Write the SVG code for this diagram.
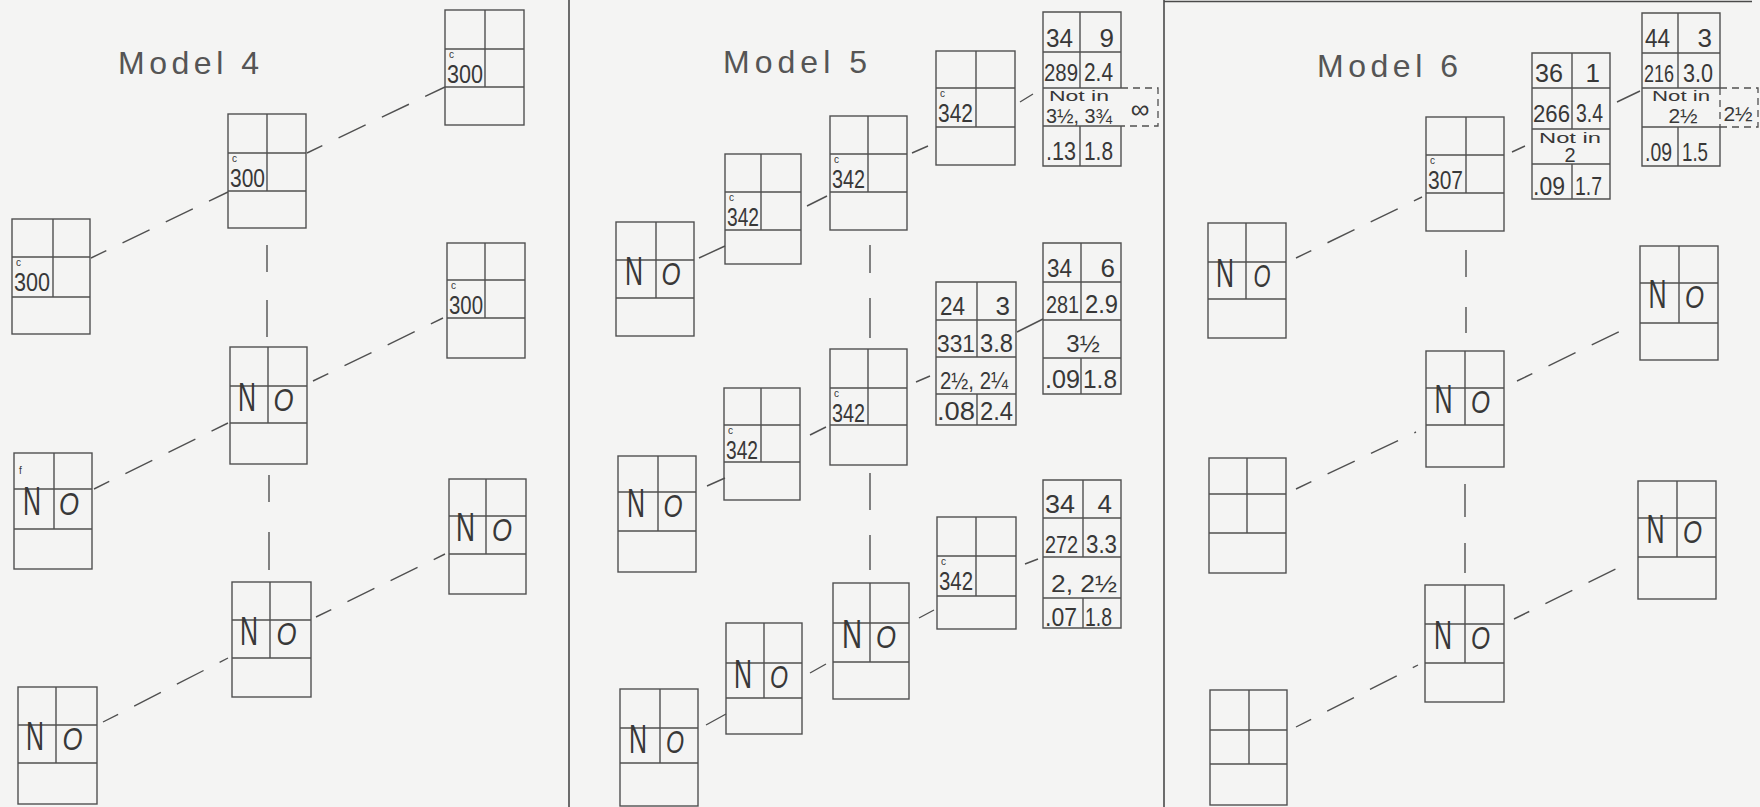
<svg xmlns="http://www.w3.org/2000/svg" width="1760" height="807" viewBox="0 0 1760 807">
<style>
.bg{fill:#f4f4f3}
.box{fill:none;stroke:#505050;stroke-width:1.4}
.div{fill:none;stroke:#4a4a4a;stroke-width:1.6}
.conn{fill:none;stroke:#505050;stroke-width:1.4}
.dash{stroke-dasharray:30 18;stroke-dashoffset:13}
.ext{fill:none;stroke:#505050;stroke-width:1.3;stroke-dasharray:7 5}
text{font-family:"Liberation Sans",Arial,sans-serif;fill:#383838}
.title{font-size:32px;fill:#555}
.n{font-size:40px;text-anchor:middle}
.o{font-size:32px;text-anchor:middle;font-style:italic}
.c{font-size:10px}
.cn{font-size:25px}
.d{font-size:26px}
.d3{font-size:23px}
.r{text-anchor:end}
.m{text-anchor:middle}
.s{font-size:15px}
</style>
<rect class="bg" x="0" y="0" width="1760" height="807"/>
<g id="frame">
<path class="div" d="M569 0V807M1164 0V807M1164 1.5H1752"/>
</g>
<g id="titles">
<text class="title" x="118" y="74" textLength="141" lengthAdjust="spacing">Model 4</text>
<text class="title" x="723" y="73" textLength="144" lengthAdjust="spacing">Model 5</text>
<text class="title" x="1317" y="77" textLength="141" lengthAdjust="spacing">Model 6</text>
</g>
<g id="connectors">
<path class="conn dash" d="M91 258L228 192M307 153L445 87M94 489L228 423M313 381L443 318M103 722L228 658M316 617L445 554"/>
<path class="conn dash" d="M1296 258L1422 197M1517 381L1633 325M1296 489L1416 432M1514 619L1630 562M1296 727L1418 665"/>
<path class="conn" d="M267 245V272M267 300V337M269 475V502M269 532V570M870 245V273M870 298V338M870 473V510M870 535V570M1466 250V277M1466 307V333M1465 484V517M1465 543V573"/>
<path class="conn" d="M699 258L725 246M807 206L827 196M912 153L928 146M1020 102L1033 94M707 486L725 478M810 435L826 427M916 382L930 376M1017 332L1043 319M706 725L726 714M810 673L826 664M919 618L934 610M1025 564L1038 559M1512 152L1525 146M1617 102L1640 91"/>
</g>

<!-- Model 4 -->
<g id="m4-n1"><rect class="box" x="445" y="10" width="79" height="115"/><path class="box" d="M445 49H524M445 87H524M485 10V87"/><text class="c" x="449" y="58">c</text><text class="cn" x="447" y="83" textLength="36" lengthAdjust="spacingAndGlyphs">300</text></g>
<g id="m4-n2"><rect class="box" x="228" y="114" width="78" height="114"/><path class="box" d="M228 153H306M228 191H306M267 114V191"/><text class="c" x="232" y="162">c</text><text class="cn" x="230" y="187" textLength="35" lengthAdjust="spacingAndGlyphs">300</text></g>
<g id="m4-n3"><rect class="box" x="12" y="219" width="78" height="115"/><path class="box" d="M12 257H90M12 297H90M53 219V297"/><text class="c" x="16" y="266">c</text><text class="cn" x="14" y="291" textLength="36" lengthAdjust="spacingAndGlyphs">300</text></g>
<g id="m4-n4"><rect class="box" x="447" y="243" width="78" height="115"/><path class="box" d="M447 280H525M447 318H525M485 243V318"/><text class="c" x="451" y="289">c</text><text class="cn" x="449" y="314" textLength="34" lengthAdjust="spacingAndGlyphs">300</text></g>
<g id="m4-n5"><rect class="box" x="230" y="347" width="77" height="117"/><path class="box" d="M230 386H307M230 423H307M268 347V423"/><text class="n" x="247" y="411" textLength="18" lengthAdjust="spacingAndGlyphs">N</text><text class="o" x="283.5" y="411" textLength="20" lengthAdjust="spacingAndGlyphs">O</text></g>
<g id="m4-n6"><rect class="box" x="14" y="453" width="78" height="116"/><path class="box" d="M14 489H92M14 529H92M54 453V529"/><text class="c" x="19" y="474" font-size="12">f</text><text class="n" x="32" y="515" textLength="18" lengthAdjust="spacingAndGlyphs">N</text><text class="o" x="69" y="515" textLength="20" lengthAdjust="spacingAndGlyphs">O</text></g>
<g id="m4-n7"><rect class="box" x="449" y="479" width="77" height="115"/><path class="box" d="M449 516H526M449 554H526M486 479V554"/><text class="n" x="465.5" y="541" textLength="19" lengthAdjust="spacingAndGlyphs">N</text><text class="o" x="502" y="541" textLength="20" lengthAdjust="spacingAndGlyphs">O</text></g>
<g id="m4-n8"><rect class="box" x="232" y="582" width="79" height="115"/><path class="box" d="M232 620H311M232 658H311M270 582V658"/><text class="n" x="249" y="645" textLength="18" lengthAdjust="spacingAndGlyphs">N</text><text class="o" x="286.5" y="645" textLength="20" lengthAdjust="spacingAndGlyphs">O</text></g>
<g id="m4-n9"><rect class="box" x="18" y="687" width="79" height="117"/><path class="box" d="M18 725H97M18 763H97M56 687V763"/><text class="n" x="35" y="750" textLength="18" lengthAdjust="spacingAndGlyphs">N</text><text class="o" x="72.5" y="750" textLength="20" lengthAdjust="spacingAndGlyphs">O</text></g>

<!-- Model 5 -->
<g id="m5-n1"><rect class="box" x="616" y="222" width="78" height="114"/><path class="box" d="M616 260H694M616 298H694M656 222V298"/><text class="n" x="634" y="285" textLength="18" lengthAdjust="spacingAndGlyphs">N</text><text class="o" x="671" y="285" textLength="19" lengthAdjust="spacingAndGlyphs">O</text></g>
<g id="m5-n2"><rect class="box" x="725" y="154" width="76" height="110"/><path class="box" d="M725 192H801M725 230H801M761 154V230"/><text class="c" x="729" y="201">c</text><text class="cn" x="727" y="226" textLength="32" lengthAdjust="spacingAndGlyphs">342</text></g>
<g id="m5-n3"><rect class="box" x="830" y="116" width="77" height="114"/><path class="box" d="M830 154H907M830 192H907M868 116V192"/><text class="c" x="834" y="163">c</text><text class="cn" x="832" y="188" textLength="33" lengthAdjust="spacingAndGlyphs">342</text></g>
<g id="m5-n4"><rect class="box" x="936" y="51" width="79" height="114"/><path class="box" d="M936 88H1015M936 127H1015M976 51V127"/><text class="c" x="940" y="97">c</text><text class="cn" x="938" y="122" textLength="35" lengthAdjust="spacingAndGlyphs">342</text></g>
<g id="m5-t1">
<path class="box" d="M1121 88V12H1043V166H1121V126M1043 52H1121M1043 88H1121M1043 126H1121M1080 12V88M1080 126V166"/>
<path class="ext" d="M1121 88H1158V126H1121"/>
<text class="d" x="1046" y="47" textLength="27" lengthAdjust="spacingAndGlyphs">34</text>
<text class="d r" x="1114" y="47">9</text>
<text class="d3" x="1044" y="81" textLength="34" lengthAdjust="spacingAndGlyphs">289</text>
<text class="d" x="1084" y="81" textLength="29" lengthAdjust="spacingAndGlyphs">2.4</text>
<text class="s m" x="1079" y="101" textLength="60" lengthAdjust="spacingAndGlyphs">Not in</text>
<text class="m" x="1079" y="123" font-size="21" textLength="66" lengthAdjust="spacingAndGlyphs">3½, 3¾</text>
<text class="m" x="1140" y="118" font-size="26">∞</text>
<text class="d" x="1046" y="160" textLength="30" lengthAdjust="spacingAndGlyphs">.13</text>
<text class="d" x="1084" y="160" textLength="29" lengthAdjust="spacingAndGlyphs">1.8</text>
</g>
<g id="m5-n5"><rect class="box" x="618" y="456" width="78" height="116"/><path class="box" d="M618 492H696M618 531H696M658 456V531"/><text class="n" x="636" y="517" textLength="18" lengthAdjust="spacingAndGlyphs">N</text><text class="o" x="673" y="517" textLength="19" lengthAdjust="spacingAndGlyphs">O</text></g>
<g id="m5-n6"><rect class="box" x="724" y="388" width="76" height="112"/><path class="box" d="M724 425H800M724 462H800M761 388V462"/><text class="c" x="728" y="434">c</text><text class="cn" x="726" y="459" textLength="32" lengthAdjust="spacingAndGlyphs">342</text></g>
<g id="m5-n7"><rect class="box" x="830" y="349" width="77" height="116"/><path class="box" d="M830 388H907M830 425H907M868 349V425"/><text class="c" x="834" y="397">c</text><text class="cn" x="832" y="422" textLength="33" lengthAdjust="spacingAndGlyphs">342</text></g>
<g id="m5-t2">
<path class="box" d="M936 282H1016V425H936ZM936 320H1016M936 357H1016M936 394H1016M977 282V357M977 394V425"/>
<text class="d" x="940" y="315" textLength="25" lengthAdjust="spacingAndGlyphs">24</text>
<text class="d r" x="1010" y="315">3</text>
<text class="d3" x="937" y="352" textLength="38" lengthAdjust="spacingAndGlyphs">331</text>
<text class="d" x="980" y="352" textLength="33" lengthAdjust="spacingAndGlyphs">3.8</text>
<text class="m" x="974" y="389" font-size="23" textLength="68" lengthAdjust="spacingAndGlyphs">2½, 2¼</text>
<text class="d" x="937" y="420" textLength="38" lengthAdjust="spacingAndGlyphs">.08</text>
<text class="d" x="980" y="420" textLength="33" lengthAdjust="spacingAndGlyphs">2.4</text>
</g>
<g id="m5-t3">
<path class="box" d="M1043 243H1121V394H1043ZM1043 282H1121M1043 320H1121M1043 358H1121M1081 243V320M1081 358V394"/>
<text class="d" x="1047" y="277" textLength="25" lengthAdjust="spacingAndGlyphs">34</text>
<text class="d r" x="1115" y="277">6</text>
<text class="d3" x="1046" y="313" textLength="33" lengthAdjust="spacingAndGlyphs">281</text>
<text class="d" x="1085" y="313" textLength="33" lengthAdjust="spacingAndGlyphs">2.9</text>
<text class="m" x="1083" y="352" font-size="24">3½</text>
<text class="d" x="1045" y="388" textLength="35" lengthAdjust="spacingAndGlyphs">.09</text>
<text class="d" x="1083" y="388" textLength="34" lengthAdjust="spacingAndGlyphs">1.8</text>
</g>
<g id="m5-n8"><rect class="box" x="620" y="689" width="78" height="117"/><path class="box" d="M620 728H698M620 763H698M660 689V763"/><text class="n" x="638" y="753" textLength="18" lengthAdjust="spacingAndGlyphs">N</text><text class="o" x="675" y="753" textLength="18" lengthAdjust="spacingAndGlyphs">O</text></g>
<g id="m5-n9"><rect class="box" x="726" y="623" width="76" height="111"/><path class="box" d="M726 663H802M726 698H802M764 623V698"/><text class="n" x="743" y="688" textLength="18" lengthAdjust="spacingAndGlyphs">N</text><text class="o" x="779" y="688" textLength="18" lengthAdjust="spacingAndGlyphs">O</text></g>
<g id="m5-n10"><rect class="box" x="833" y="583" width="76" height="116"/><path class="box" d="M833 623H909M833 662H909M870 583V662"/><text class="n" x="852" y="648" font-size="44" textLength="20" lengthAdjust="spacingAndGlyphs">N</text><text class="o" x="886" y="648" textLength="20" lengthAdjust="spacingAndGlyphs">O</text></g>
<g id="m5-n11"><rect class="box" x="937" y="517" width="79" height="112"/><path class="box" d="M937 556H1016M937 596H1016M976 517V596"/><text class="c" x="941" y="565">c</text><text class="cn" x="939" y="590" textLength="34" lengthAdjust="spacingAndGlyphs">342</text></g>
<g id="m5-t4">
<path class="box" d="M1043 480H1121V628H1043ZM1043 518H1121M1043 557H1121M1043 598H1121M1083 480V557M1083 598V628"/>
<text class="d" x="1045" y="513" textLength="30" lengthAdjust="spacingAndGlyphs">34</text>
<text class="d r" x="1112" y="513">4</text>
<text class="d3" x="1045" y="553" textLength="33" lengthAdjust="spacingAndGlyphs">272</text>
<text class="d" x="1086" y="553" textLength="31" lengthAdjust="spacingAndGlyphs">3.3</text>
<text class="m" x="1084" y="592" font-size="23" textLength="66" lengthAdjust="spacingAndGlyphs">2, 2½</text>
<text class="d" x="1045" y="626" textLength="32" lengthAdjust="spacingAndGlyphs">.07</text>
<text class="d" x="1085" y="626" textLength="27" lengthAdjust="spacingAndGlyphs">1.8</text>
</g>

<!-- Model 6 -->
<g id="m6-n1"><rect class="box" x="1208" y="223" width="78" height="115"/><path class="box" d="M1208 262H1286M1208 299H1286M1246 223V299"/><text class="n" x="1225" y="287" textLength="18" lengthAdjust="spacingAndGlyphs">N</text><text class="o" x="1262" y="287" textLength="17" lengthAdjust="spacingAndGlyphs">O</text></g>
<g id="m6-n2"><rect class="box" x="1426" y="117" width="78" height="114"/><path class="box" d="M1426 155H1504M1426 193H1504M1466 117V193"/><text class="c" x="1430" y="164">c</text><text class="cn" x="1428" y="189" textLength="35" lengthAdjust="spacingAndGlyphs">307</text></g>
<g id="m6-t5">
<path class="box" d="M1532 53H1610V199H1532ZM1532 88H1610M1532 129H1610M1532 164H1610M1572 53V129M1572 164V199"/>
<text class="d" x="1535" y="82" textLength="28" lengthAdjust="spacingAndGlyphs">36</text>
<text class="d r" x="1600" y="82">1</text>
<text class="d3" x="1533" y="122" textLength="37" lengthAdjust="spacingAndGlyphs">266</text>
<text class="d" x="1576" y="122" textLength="27" lengthAdjust="spacingAndGlyphs">3.4</text>
<text class="s m" x="1570" y="143" textLength="62" lengthAdjust="spacingAndGlyphs">Not in</text>
<text class="m" x="1570" y="162" font-size="20">2</text>
<text class="d" x="1533" y="195" textLength="32" lengthAdjust="spacingAndGlyphs">.09</text>
<text class="d" x="1575" y="195" textLength="27" lengthAdjust="spacingAndGlyphs">1.7</text>
</g>
<g id="m6-t6">
<path class="box" d="M1720 88V13H1642V166H1720V127M1642 53H1720M1642 88H1720M1642 127H1720M1678 13V88M1678 127V166"/>
<path class="ext" d="M1720 88H1758V127H1720M1720 88V127"/>
<text class="d" x="1645" y="47" textLength="25" lengthAdjust="spacingAndGlyphs">44</text>
<text class="d r" x="1712" y="47">3</text>
<text class="d3" x="1644" y="82" textLength="30" lengthAdjust="spacingAndGlyphs">216</text>
<text class="d" x="1683" y="82" textLength="30" lengthAdjust="spacingAndGlyphs">3.0</text>
<text class="s m" x="1681" y="101" font-size="14" textLength="58" lengthAdjust="spacingAndGlyphs">Not in</text>
<text class="m" x="1683" y="123" font-size="21">2½</text>
<text class="m" x="1738" y="121" font-size="21">2½</text>
<text class="d" x="1645" y="161" textLength="27" lengthAdjust="spacingAndGlyphs">.09</text>
<text class="d" x="1682" y="161" textLength="26" lengthAdjust="spacingAndGlyphs">1.5</text>
</g>
<g id="m6-n3"><rect class="box" x="1426" y="351" width="78" height="116"/><path class="box" d="M1426 388H1504M1426 425H1504M1465 351V425"/><text class="n" x="1443.5" y="413" textLength="18" lengthAdjust="spacingAndGlyphs">N</text><text class="o" x="1480.5" y="413" textLength="19" lengthAdjust="spacingAndGlyphs">O</text></g>
<g id="m6-n4"><rect class="box" x="1640" y="246" width="78" height="114"/><path class="box" d="M1640 283H1718M1640 323H1718M1679 246V323"/><text class="n" x="1657.5" y="308" textLength="18" lengthAdjust="spacingAndGlyphs">N</text><text class="o" x="1694.5" y="308" textLength="19" lengthAdjust="spacingAndGlyphs">O</text></g>
<g id="m6-n5"><rect class="box" x="1209" y="458" width="77" height="115"/><path class="box" d="M1209 494H1286M1209 533H1286M1247 458V533"/></g>
<g id="m6-n6"><rect class="box" x="1425" y="585" width="79" height="117"/><path class="box" d="M1425 624H1504M1425 663H1504M1465 585V663"/><text class="n" x="1443" y="649" textLength="18" lengthAdjust="spacingAndGlyphs">N</text><text class="o" x="1480.5" y="649" textLength="19" lengthAdjust="spacingAndGlyphs">O</text></g>
<g id="m6-n7"><rect class="box" x="1638" y="481" width="78" height="118"/><path class="box" d="M1638 518H1716M1638 557H1716M1677 481V557"/><text class="n" x="1655.5" y="543" textLength="18" lengthAdjust="spacingAndGlyphs">N</text><text class="o" x="1692.5" y="543" textLength="19" lengthAdjust="spacingAndGlyphs">O</text></g>
<g id="m6-n8"><rect class="box" x="1210" y="690" width="77" height="115"/><path class="box" d="M1210 730H1287M1210 764H1287M1249 690V764"/></g>
</svg>
